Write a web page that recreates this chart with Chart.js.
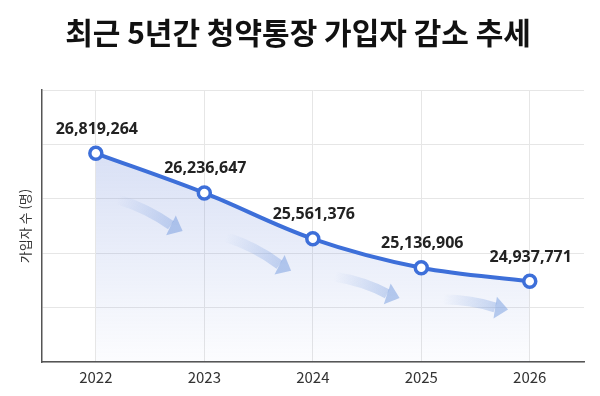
<!DOCTYPE html>
<html lang="ko">
<head>
<meta charset="utf-8">
<script src="https://cdn.jsdelivr.net/npm/chart.js@4.4.1/dist/chart.umd.min.js"></script>
<style>
  html, body { margin: 0; padding: 0; background: #fff; }
  #wrap { width: 600px; height: 396px; }
</style>
</head>
<body>
<div id="wrap"><canvas id="chart-subs"></canvas></div>
<script>
// data
const years = ['2022', '2023', '2024', '2025', '2026'];
const subscribers = [26819264, 26236647, 25561376, 25136906, 24937771];
const yRange = [23750000, 27750000];
const yStep = 800000;

const FONT = "'Noto Sans CJK KR', 'Noto Sans', sans-serif";
const BLUE = '#3d6fd9';

// value labels above each point
const valueLabels = {
    id: 'valueLabels',
    afterDatasetsDraw(chart) {
        const { ctx } = chart;
        const meta = chart.getDatasetMeta(0);
        ctx.save();
        ctx.font = "bold 16px 'Noto Sans', sans-serif";
        ctx.fillStyle = '#222';
        ctx.textAlign = 'center';
        ctx.textBaseline = 'middle';
        meta.data.forEach((pt, i) => {
            ctx.fillText(subscribers[i].toLocaleString('en-US'), pt.x + 1, pt.y - 24);
        });
        ctx.restore();
    }
};

// faint decorative arrows under the line
const trendArrows = {
    id: 'trendArrows',
    beforeDatasetsDraw(chart) {
        const { ctx } = chart;
        const pts = chart.getDatasetMeta(0).data;
        ctx.save();
        for (let i = 0; i < pts.length - 1; i++) {
            const a = pts[i], b = pts[i + 1];
            const dx = b.x - a.x, dy = b.y - a.y;
            const sx = a.x + dx * 0.2, sy = a.y + dy * 0.2 + 38 - i * 3;
            const ex = a.x + dx * 0.8, ey = a.y + dy * 0.8 + 46 - i * 5;
            const ang = Math.atan2(ey - sy, ex - sx);
            const hx = ex - Math.cos(ang) * 13, hy = ey - Math.sin(ang) * 13;
            const g = ctx.createLinearGradient(sx, sy, ex, ey);
            g.addColorStop(0, 'rgba(130,165,225,0)');
            g.addColorStop(1, 'rgba(130,165,225,0.5)');
            ctx.strokeStyle = g;
            ctx.lineWidth = 10;
            ctx.lineCap = 'butt';
            ctx.beginPath();
            ctx.moveTo(sx, sy);
            ctx.quadraticCurveTo((sx + hx) / 2 + 3, (sy + hy) / 2 - 4, hx, hy);
            ctx.stroke();
            ctx.fillStyle = 'rgba(130,165,225,0.55)';
            ctx.beginPath();
            ctx.moveTo(ex, ey);
            ctx.lineTo(hx - Math.cos(ang + Math.PI / 2) * 11, hy - Math.sin(ang + Math.PI / 2) * 11);
            ctx.lineTo(hx + Math.cos(ang + Math.PI / 2) * 11, hy + Math.sin(ang + Math.PI / 2) * 11);
            ctx.closePath();
            ctx.fill();
        }
        ctx.restore();
    }
};

new Chart(document.getElementById('chart-subs'), {
    type: 'line',
    data: {
        labels: years,
        datasets: [{
            data: subscribers,
            borderColor: BLUE,
            borderWidth: 4,
            tension: 0.35,
            fill: 'start',
            backgroundColor: (c) => {
                const area = c.chart.chartArea;
                if (!area) return 'rgba(61,111,217,0.15)';
                const g = c.chart.ctx.createLinearGradient(0, area.top + 60, 0, area.bottom);
                g.addColorStop(0, 'rgba(100,130,215,0.25)');
                g.addColorStop(1, 'rgba(100,130,215,0.02)');
                return g;
            },
            pointRadius: 6,
            pointBackgroundColor: '#fff',
            pointBorderColor: BLUE,
            pointBorderWidth: 3.5
        }]
    },
    options: {
        responsive: true,
        maintainAspectRatio: false,
        animation: false,
        layout: { padding: { left: 12, right: 16, bottom: 4 } },
        plugins: {
            legend: { display: false },
            tooltip: { enabled: false },
            title: {
                display: true,
                text: '최근 5년간 청약통장 가입자 감소 추세',
                color: '#111',
                font: { family: FONT, size: 30, weight: 'bold' },
                padding: { top: 15, bottom: 39 }
            }
        },
        scales: {
            x: {
                offset: true,
                grid: { color: '#e6e6e6', drawTicks: false },
                border: { color: '#555', width: 1.5 },
                ticks: { color: '#333', padding: 6, font: { family: FONT, size: 15 } }
            },
            y: {
                min: yRange[0],
                max: yRange[1],
                grid: { color: '#e6e6e6', drawTicks: false },
                border: { color: '#555', width: 1.5 },
                ticks: { display: false, stepSize: yStep },
                title: {
                    display: true,
                    text: '가입자 수 (명)',
                    color: '#333',
                    font: { family: FONT, size: 13 },
                    padding: { top: 5, bottom: 9 }
                }
            }
        }
    },
    plugins: [trendArrows, valueLabels]
});
</script>
</body>
</html>
